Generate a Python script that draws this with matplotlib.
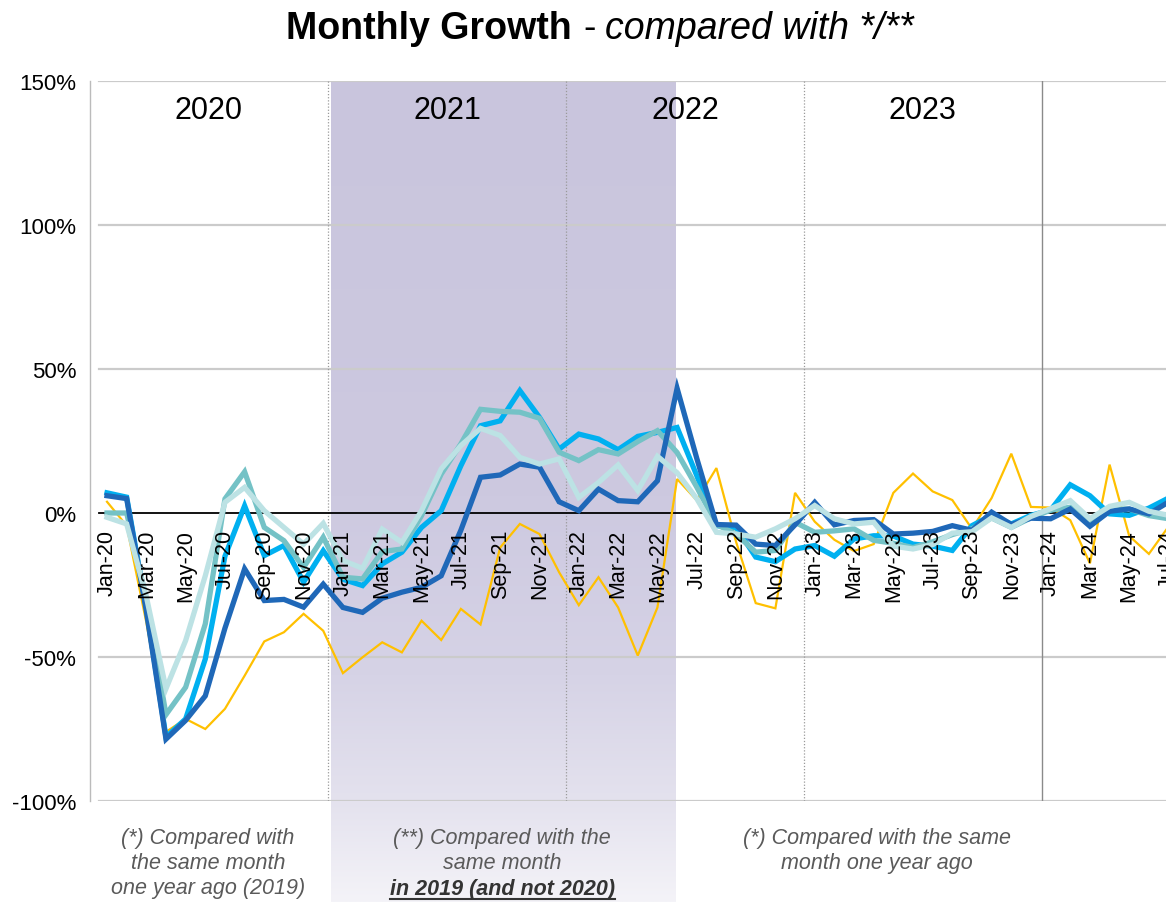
import numpy as np
import pandas as pd
import matplotlib
matplotlib.use('Agg')
import matplotlib.pyplot as plt
from matplotlib.transforms import blended_transform_factory
from matplotlib.lines import Line2D

plt.rcParams['font.family'] = ['Liberation Sans', 'DejaVu Sans']

# meses de Jan-20 a Jul-24
meses = pd.date_range('2020-01-01', periods=55, freq='MS').strftime('%b-%y').tolist()

# crecimiento mensual (%) por serie
serie_amarilla = [3.9, -4.4, -38, -76, -71.5, -75, -68, -56.5, -44.6, -41.4, -35, -40.9,
                  -55.6, -50.1, -44.9, -48.4, -37.4, -44.1, -33.3, -38.7, -12, -3.8, -7.3, -20.6,
                  -32, -22.3, -32.8, -49.5, -32.8, 11.8, 4.4, 15.6, -10, -31.3, -33.1, 7,
                  -3, -9.3, -13.2, -10.8, 7, 13.7, 7.5, 4.5, -5.5, 5.2, 20.6, 2.1,
                  1.9, -2.5, -17.5, 16.8, -8, -14.2, -4.7]
serie_azul = [6, 5, -34, -78.5, -72, -63.5, -40, -19.4, -30.4, -30, -32.7, -24.7,
              -32.8, -34.5, -29.6, -27.5, -25.8, -21.8, -6, 12.4, 13.2, 17, 15.9, 3.9,
              0.8, 8.3, 4.3, 3.9, 11.2, 43.3, 19, -4, -4.2, -10.8, -11.3, -4.1,
              3.7, -4.1, -2.6, -2.3, -7.3, -7, -6.4, -4.4, -6, 0.3, -4, -1.8,
              -2, 1.4, -4.6, 0.6, 1.4, -0.3, 3.8]
serie_cian = [7, 5.5, -33, -77.8, -71.5, -50.7, -15, 2.5, -14.8, -11.3, -24, -13.1,
              -23, -25.2, -17.7, -13.6, -5, 0.8, 16.4, 30.3, 32, 42.5, 33.2, 22.2,
              27.4, 25.7, 22, 26.6, 28, 29.7, 13, -4.4, -5, -15.3, -16.9, -12.5,
              -11.3, -15, -9, -7.9, -8, -10.8, -11.5, -13, -4.4, -0.8, -3.8, -0.8,
              1, 9.8, 6, -0.3, -0.8, 1.7, 5.2]
serie_turquesa = [0, 0, -30, -70, -60.5, -38.5, 4.9, 14.3, -5, -9.6, -18.9, -8.4,
                  -22.3, -22.9, -13.4, -12.5, -0.9, 13.5, 24, 36, 35.3, 35, 32.9, 21.1,
                  18.2, 22, 20.5, 24.8, 28.6, 21, 9, -4, -7.3, -13.6, -13, -3.2,
                  -6.7, -6.2, -5.5, -9.5, -10.5, -12, -10, -7.5, -5.5, -1.7, -5, -1.7,
                  1, 2, -3.4, 1.4, 1.4, -0.9, -2]
serie_clara = [-1.5, -3.8, -29, -61, -44.3, -21.8, 3.7, 8.9, 0.8, -5, -10.8, -3.6,
               -16.5, -19.2, -5.6, -10.2, 0.8, 15.3, 23.4, 29.4, 26.9, 19.3, 17, 18.8,
               5.4, 10.6, 16.7, 7.8, 19.7, 14, 5, -6.7, -7.3, -8.4, -5.5, -2,
               2.6, -2, -3.8, -3.2, -11.5, -12.5, -11, -7, -6.5, -1.7, -5, -1.2,
               1.5, 4.3, -2, 2.3, 3.7, 0.6, -0.8]

anios = ['2020', '2021', '2022', '2023']
valores_y = [-100, -50, 0, 50, 100, 150]

# layout
divisiones = [11.24, 23.35, 35.45, 47.56]
sombra = (11.39, 28.89)
x_lim = (-0.865, 53.87)

fig = plt.figure(figsize=(11.66, 9.03), dpi=100)
ax = fig.add_axes([90 / 1166, 1 - 802 / 903, 1 - 90 / 1166, (802 - 82) / 903])
x = np.arange(len(meses))

# zona sombreada con degradado (sale por debajo del eje)
top_frac = 1 - 82 / 903
stops_y = [0, 0.11, 0.25, 0.45, top_frac]
stops_c = [(244, 243, 248), (228, 226, 238), (214, 211, 230), (205, 201, 224), (201, 197, 221)]
yy = np.linspace(top_frac, 0, 300)
grad = np.stack([np.interp(yy, stops_y, [c[k] for c in stops_c]) for k in range(3)], axis=-1) / 255
trans = blended_transform_factory(ax.transData, fig.transFigure)
ax.imshow(grad[:, None, :], extent=(sombra[0], sombra[1], 0, top_frac), transform=trans,
          aspect='auto', origin='upper', clip_on=False, zorder=0, interpolation='bilinear')

# rejilla
for v in valores_y:
    if v != 0:
        ax.axhline(v, xmin=0.0084, color='#cbcbcb', lw=1.6, zorder=1)
ax.axhline(0, xmin=0.0084, color='black', lw=1.3, zorder=2)

for d in divisiones[:3]:
    ax.axvline(d, color='#9a9a9a', lw=0.9, ls=(0, (1, 1.5)), zorder=1)
ax.axvline(divisiones[3], color='#8a8a8a', lw=1.0, zorder=1)

# series
ax.plot(x, serie_amarilla, color='#ffc000', lw=1.6, zorder=3, solid_joinstyle='miter')
ax.plot(x, serie_cian, color='#00b0f0', lw=3.8, zorder=4, solid_joinstyle='miter')
ax.plot(x, serie_turquesa, color='#74c2c6', lw=3.8, zorder=5, solid_joinstyle='miter')
ax.plot(x, serie_azul, color='#1f68b8', lw=3.8, zorder=6, solid_joinstyle='miter')
ax.plot(x, serie_clara, color='#bce2e4', lw=3.8, zorder=7, solid_joinstyle='miter')

# etiquetas de meses sobre la línea de cero
for i in range(0, len(meses), 2):
    ax.annotate(meses[i], (i, 0), xytext=(0, -11.5), textcoords='offset points',
                rotation=90, ha='center', va='top', fontsize=15.5,
                annotation_clip=False, zorder=8)

# años
limites = [x_lim[0]] + divisiones
for k, anio in enumerate(anios):
    ax.text((limites[k] + limites[k + 1]) / 2, 140, anio, ha='center', va='center', fontsize=22)

ax.set_xlim(*x_lim)
ax.set_ylim(-100, 150)
ax.set_xticks([])
ax.set_yticks(valores_y)
ax.set_yticklabels([f'{v}%' for v in valores_y])
ax.tick_params(axis='y', length=0, pad=10, labelsize=16)
for s in ['top', 'right', 'bottom']:
    ax.spines[s].set_visible(False)
ax.spines['left'].set_color('#bbbbbb')
ax.spines['left'].set_linewidth(1.0)
ax.set_facecolor('none')

# título
fig.text(0.4906, 0.968, 'Monthly Growth', ha='right', va='center', fontsize=27, fontweight='bold')
fig.text(0.5055, 0.968, '-', ha='center', va='center', fontsize=27)
fig.text(0.519, 0.968, 'compared with */**', ha='left', va='center', fontsize=27, style='italic')

# notas al pie
gris = '#5a5a5a'
fig.text(208 / 1166, 1 - 828 / 903, '(*) Compared with\nthe same month\none year ago (2019)',
         ha='center', va='top', fontsize=15.5, style='italic', color=gris, linespacing=1.25)
fig.text(502 / 1166, 1 - 828 / 903, '(**) Compared with the\nsame month',
         ha='center', va='top', fontsize=15.5, style='italic', color=gris, linespacing=1.25)
nota = fig.text(502 / 1166, 1 - 890 / 903, 'in 2019 (and not 2020)', ha='center', va='center',
                fontsize=15.5, style='italic', fontweight='bold', color='#333333')
fig.text(877 / 1166, 1 - 828 / 903, '(*) Compared with the same\nmonth one year ago',
         ha='center', va='top', fontsize=15.5, style='italic', color=gris, linespacing=1.25)

# subrayado
r = fig.canvas.get_renderer()
bb = nota.get_window_extent(renderer=r)
fig.add_artist(Line2D([bb.x0, bb.x1], [bb.y0 + 1, bb.y0 + 1], transform=None,
                      color='#333333', lw=1.5))

fig.savefig('out.png', dpi=100)
